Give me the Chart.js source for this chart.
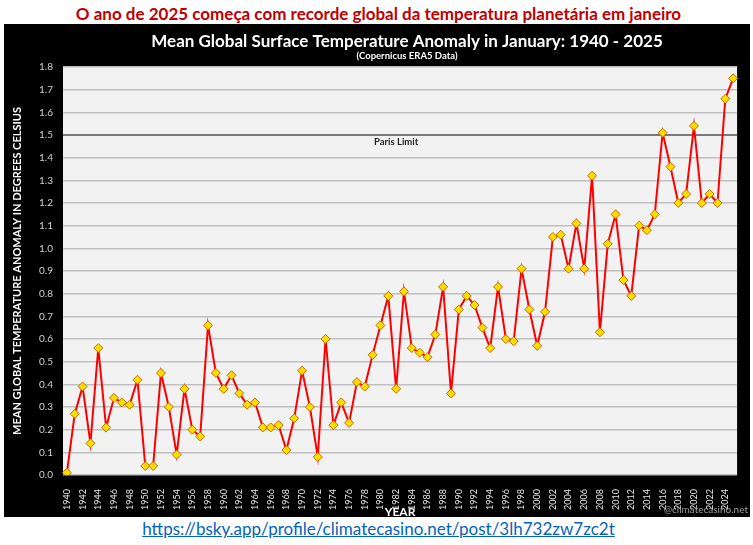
<!DOCTYPE html>
<html>
<head>
<meta charset="utf-8">
<script src="https://cdn.jsdelivr.net/npm/chart.js@4"></script>
<style>
  body { margin: 0; background: #fff; width: 753px; height: 545px; overflow: hidden; font-family: Lato, sans-serif; }
  #headline { position: absolute; left: 0; top: 3px; width: 757px; text-align: center; color: #c00000; font: bold 17px Lato, sans-serif; }
  #box { position: absolute; left: 4px; top: 24px; width: 746px; height: 493px; background: #000; }
  #link { position: absolute; left: 0; top: 518px; width: 757px; text-align: center; font: 17px Lato, sans-serif; }
  #link a { color: #0563c1; }
</style>
</head>
<body>
<div id="headline">O ano de 2025 começa com recorde global da temperatura planetária em janeiro</div>
<div id="box"><canvas id="chart"></canvas></div>
<div id="link"><a href="#">https://bsky.app/profile/climatecasino.net/post/3lh732zw7zc2t</a></div>
<script>
const years = [];
for (let y = 1940; y <= 2025; y++) years.push(y);

const anomaly = [
  0.01, 0.27, 0.39, 0.14, 0.56, 0.21, 0.34, 0.32, 0.31, 0.42,
  0.04, 0.04, 0.45, 0.30, 0.09, 0.38, 0.20, 0.17, 0.66, 0.45,
  0.38, 0.44, 0.36, 0.31, 0.32, 0.21, 0.21, 0.22, 0.11, 0.25,
  0.46, 0.30, 0.08, 0.60, 0.22, 0.32, 0.23, 0.41, 0.39, 0.53,
  0.66, 0.79, 0.38, 0.81, 0.56, 0.54, 0.52, 0.62, 0.83, 0.36,
  0.73, 0.79, 0.75, 0.65, 0.56, 0.83, 0.60, 0.59, 0.91, 0.73,
  0.57, 0.72, 1.05, 1.06, 0.91, 1.11, 0.91, 1.32, 0.63, 1.02,
  1.15, 0.86, 0.79, 1.10, 1.08, 1.15, 1.51, 1.36, 1.20, 1.24,
  1.54, 1.20, 1.24, 1.20, 1.66, 1.75
];

const parisLimit = 1.5;
const chartTitle = 'Mean Global Surface Temperature Anomaly in January: 1940 - 2025';
const chartSubtitle = '(Copernicus ERA5 Data)';

const decor = {
  id: 'decor',
  beforeDraw(chart) {
    const { ctx, chartArea: a } = chart;
    ctx.save();
    ctx.fillStyle = '#f2f2f2';
    ctx.fillRect(a.left, a.top, a.right - a.left, a.bottom - a.top);
    ctx.restore();
  },
  afterDatasetsDraw(chart) {
    const { ctx, chartArea: a, scales } = chart;
    const cx = (a.left + a.right) / 2;
    ctx.save();
    ctx.textAlign = 'center';
    ctx.textBaseline = 'middle';
    ctx.fillStyle = '#ffffff';
    ctx.font = 'bold 17px Lato, sans-serif';
    ctx.fillText(chartTitle, cx + 7, 18);
    ctx.font = 'bold 9.5px Lato, sans-serif';
    ctx.fillText(chartSubtitle, cx + 7, 32);
    const py = scales.y.getPixelForValue(parisLimit);
    ctx.fillStyle = '#262626';
    ctx.font = 'bold 9.5px Lato, sans-serif';
    ctx.fillText('Paris Limit', scales.x.getPixelForValue(42), py + 7);
    ctx.fillStyle = '#9a9a9a';
    ctx.font = '10px Lato, sans-serif';
    ctx.textAlign = 'right';
    ctx.fillText('@climatecasino.net', chart.width - 2, chart.height - 7);
    ctx.restore();
  }
};

new Chart(document.getElementById('chart'), {
  type: 'line',
  data: {
    labels: years,
    datasets: [{
      data: anomaly,
      borderColor: '#ff0000',
      borderWidth: 2,
      tension: 0,
      pointStyle: 'rectRot',
      pointRadius: 4.5,
      pointBackgroundColor: '#ffdc00',
      pointBorderColor: '#c07000',
      pointBorderWidth: 1,
      fill: false
    }]
  },
  options: {
    responsive: true,
    maintainAspectRatio: false,
    animation: false,
    events: [],
    layout: { padding: { top: 43, right: 3, left: 0, bottom: 0 } },
    plugins: { legend: { display: false }, tooltip: { enabled: false } },
    scales: {
      x: {
        offset: true,
        grid: { display: false },
        border: { display: false },
        afterFit(s) { s.height = 42; },
        ticks: {
          autoSkip: false,
          maxRotation: 90,
          minRotation: 90,
          padding: 6,
          color: '#e6e6e6',
          font: { family: 'Lato', size: 9 },
          callback(v, i) { return years[i] % 2 === 0 ? String(years[i]) : ''; }
        },
        title: {
          display: true,
          text: 'YEAR',
          color: '#ffffff',
          font: { family: 'Lato', size: 12, weight: 'bold' },
          padding: { top: 0, bottom: -2 }
        }
      },
      y: {
        min: 0,
        max: 1.8,
        afterFit(s) { s.width = 59; },
        border: { display: false },
        grid: {
          color: c => c.tick && Math.abs(c.tick.value - parisLimit) < 1e-6 ? '#7a7a7a' : '#bfbfbf',
          lineWidth: c => c.tick && Math.abs(c.tick.value - parisLimit) < 1e-6 ? 2 : 1.5,
          drawTicks: false
        },
        ticks: {
          stepSize: 0.1,
          padding: 10,
          color: '#d0d0d0',
          font: { family: 'Lato', size: 10 },
          callback: v => v.toFixed(1)
        },
        title: {
          display: true,
          text: 'MEAN GLOBAL TEMPERATURE ANOMALY IN DEGREES CELSIUS',
          color: '#ffffff',
          font: { family: 'Lato', size: 11, weight: 'bold' },
          padding: { top: 7, bottom: 0 }
        }
      }
    }
  },
  plugins: [decor]
});
</script>
</body>
</html>
